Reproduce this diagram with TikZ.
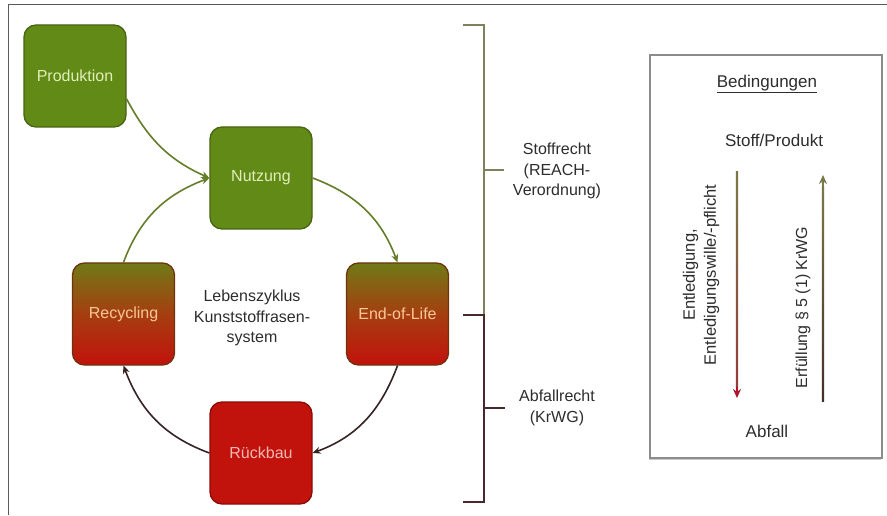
\documentclass[tikz,border=0pt]{standalone}
\usepackage{fontspec}
\setmainfont{Liberation Sans}
\usetikzlibrary{arrows.meta,shadows}
\definecolor{boxgreen}{RGB}{98,138,22}
\definecolor{boxgreendk}{RGB}{72,100,16}
\definecolor{boxred}{RGB}{194,18,12}
\definecolor{boxreddk}{RGB}{140,12,8}
\definecolor{boxolive}{RGB}{112,122,22}
\definecolor{boxmid}{RGB}{165,62,16}
\definecolor{boxmixdk}{RGB}{110,50,15}
\definecolor{arrgreen}{RGB}{100,125,40}
\definecolor{arrdark}{RGB}{55,35,35}
\definecolor{brgreen}{RGB}{128,128,92}
\definecolor{brdark}{RGB}{72,40,45}
\definecolor{txtgray}{RGB}{45,45,45}
\definecolor{lightgreen}{RGB}{225,238,185}
\definecolor{lightorange}{RGB}{250,200,150}
\definecolor{lightpink}{RGB}{245,185,180}
\definecolor{arrolive}{RGB}{122,120,72}
\definecolor{arrbrown}{RGB}{150,60,55}
\definecolor{arrred}{RGB}{175,20,40}
\definecolor{arrdkbrown}{RGB}{70,45,40}
\definecolor{framegray}{RGB}{90,90,90}
\definecolor{boxgray}{RGB}{140,140,140}
\tikzset{
  stage/.style={rounded corners=12pt, minimum width=102pt, minimum height=102pt,
    inner sep=0pt, line width=1.3pt, font=\fontsize{16}{19}\selectfont},
  greenstage/.style={stage, fill=boxgreen, draw=boxgreendk, text=lightgreen},
  mixstage/.style={stage, top color=boxolive, bottom color=boxred, middle color=boxmid,
    draw=boxmixdk, text=lightorange},
  redstage/.style={stage, fill=boxred, draw=boxreddk, text=lightpink},
  plaintext/.style={align=center, text=txtgray, inner sep=1pt,
    font=\fontsize{16}{20.5}\selectfont},
  boxtext/.style={plaintext, font=\fontsize{17}{21}\selectfont},
  cyc/.style={line width=1.6pt, -{Stealth[length=8pt,width=7pt]}},
  brline/.style={line width=2pt},
}
\begin{document}
\begin{tikzpicture}[x=1pt,y=1pt]
\useasboundingbox (0,0) rectangle (887,515);
\fill[white] (0,0) rectangle (887,515);
\draw[framegray, line width=1pt] (8,0) -- (8,510) -- (887,510);

% stages
\node[greenstage] (prod) at (75,439) {Produktion};
\node[greenstage] (nutz) at (261,337) {Nutzung};
\node[mixstage] (eol) at (397.5,201) {End-of-Life};
\node[mixstage] (recy) at (123.5,201) {Recycling};
\node[redstage] (rueck) at (261,62) {Rückbau};
\node[plaintext] (zyklus) at (252,197) {Lebenszyklus\\Kunststoffrasen-\\system};

% cycle connectors
\draw[cyc, arrgreen] ([yshift=-23pt]prod.east) to[out=-62, in=156] (nutz.west);
\draw[cyc, arrgreen] (recy.north) to[out=69.6, in=200.6] (nutz.west);
\draw[cyc, arrgreen] (nutz.east) to[out=-20.6, in=110.5] (eol.north);
\draw[cyc, arrdark] (eol.south) to[out=-110.5, in=20.3] (rueck.east);
\draw[cyc, arrdark] (rueck.west) to[out=159.7, in=-69.5] (recy.south);

% bracket
\node[plaintext] (stoffr) at (557,344) {Stoffrecht\\(REACH-\\Verordnung)};
\node[plaintext] (abfr) at (557,107) {Abfallrecht\\(KrWG)};
\coordinate (bt1) at (463,490);
\coordinate (bt2) at (484,490);
\coordinate (bm1) at (484,200);
\coordinate (bm2) at (463,200);
\coordinate (bb1) at (484,13);
\coordinate (bb2) at (463,13);
\coordinate (bs1) at (484,345);
\coordinate (bs2) at (504,345);
\coordinate (ba1) at (484,107);
\coordinate (ba2) at (505,107);
\draw[brline, brgreen] (bt1) -- (bt2) -- (bm1);
\draw[brline, brgreen] (bs1) -- (bs2);
\draw[brline, brdark] (bm2) -- (bm1) -- (bb1) -- (bb2);
\draw[brline, brdark] (ba1) -- (ba2);

% conditions box
\node[draw=boxgray, line width=1.5pt, fill=white, minimum width=232pt, minimum height=403pt,
  drop shadow={shadow xshift=-1.5pt, shadow yshift=-2pt, fill=gray!70, opacity=0.6}]
  (cond) at (766,258.5) {};
\node[boxtext] (bed) at (767,431) {\underline{Bedingungen}};
\node[boxtext] (stoff) at (774,375) {Stoff/Produkt};
\node[boxtext] (abfall) at (767,84) {Abfall};

\coordinate (la1) at (737,343);
\coordinate (la2) at (737,128);
\coordinate (la3) at (737,117);
\shade[top color=arrolive, bottom color=arrbrown] ([xshift=-1.2pt]la1) rectangle ([xshift=1.2pt]la2);
\draw[arrred, line width=2.4pt, -{Stealth[length=9pt,width=8pt]}] (la2) -- (la3);

\coordinate (ra1) at (823,114);
\coordinate (ra2) at (823,328);
\coordinate (ra3) at (823,340);
\shade[top color=arrolive, bottom color=arrdkbrown] ([xshift=-1.2pt]ra1) rectangle ([xshift=1.2pt]ra2);
\draw[arrolive, line width=2.4pt, -{Stealth[length=9pt,width=8pt]}] (ra2) -- (ra3);

\node[plaintext, rotate=90, font=\fontsize{16.5}{21}\selectfont] (entl) at (701,240)
  {Entledigung,\\Entledigungswille/-pflicht};
\node[plaintext, rotate=90, font=\fontsize{16}{20}\selectfont] (erf) at (803,207.5) {Erfüllung § 5 (1) KrWG};
\end{tikzpicture}
\end{document}
